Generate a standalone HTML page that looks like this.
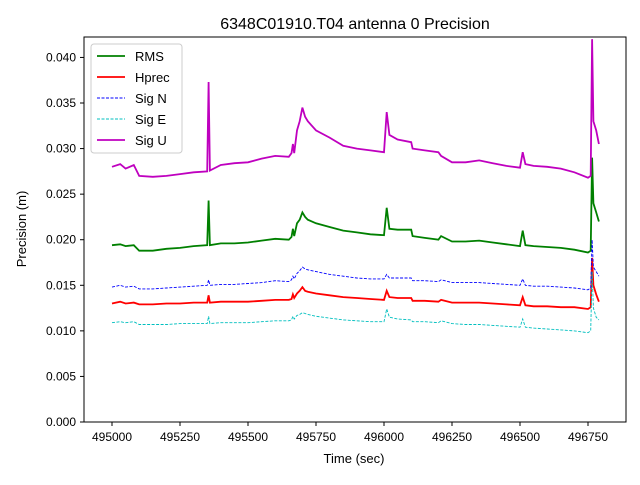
<!DOCTYPE html>
<html><head><meta charset="utf-8"><style>body{margin:0;background:#fff}svg text{font-family:"Liberation Sans","DejaVu Sans",sans-serif;fill:#000}</style></head>
<body>
<svg id="c" width="640" height="480" xmlns="http://www.w3.org/2000/svg">
<rect width="640" height="480" fill="#fff"/>
<g id="plot"></g>
<rect x="84" y="37" width="542" height="385" fill="none" stroke="#000" stroke-width="1"/>
<g id="axes"></g>
<text x="355" y="29" font-size="16" text-anchor="middle">6348C01910.T04 antenna 0 Precision</text>
<text x="354" y="463" font-size="13" text-anchor="middle">Time (sec)</text>
<text transform="translate(26,229) rotate(-90)" font-size="13" text-anchor="middle">Precision (m)</text>
<g id="legend">
<rect x="91" y="44" width="91" height="109" rx="3" fill="#fff" fill-opacity="0.8" stroke="#ccc"/>
</g>
</svg>
<script>
const times=[495000,495030,495050,495080,495100,495150,495200,495250,495300,495350,495355,495360,495400,495450,495500,495550,495600,495650,495660,495665,495670,495680,495690,495700,495710,495720,495750,495800,495850,495900,495950,496000,496010,496020,496050,496100,496105,496150,496200,496210,496250,496300,496350,496400,496450,496500,496510,496520,496550,496600,496650,496700,496750,496760,496765,496770,496780,496790];
const rms=[.0194,.0195,.0193,.0194,.0188,.0188,.0190,.0191,.0193,.0194,.0243,.0194,.0196,.0196,.0197,.0199,.0201,.0200,.0203,.0212,.0204,.0218,.0222,.0230,.0225,.0222,.0218,.0214,.0210,.0208,.0206,.0205,.0235,.0212,.0211,.0211,.0204,.0202,.0200,.0204,.0198,.0198,.0199,.0197,.0195,.0193,.0210,.0194,.0193,.0192,.0191,.0189,.0186,.0188,.0290,.0240,.0230,.0220];
const hprec=[.0130,.0132,.0130,.0131,.0129,.0129,.0130,.0130,.0131,.0131,.0139,.0131,.0132,.0132,.0132,.0133,.0134,.0134,.0135,.0140,.0136,.0141,.0144,.0148,.0144,.0143,.0141,.0139,.0137,.0136,.0135,.0134,.0144,.0137,.0136,.0136,.0133,.0133,.0132,.0134,.0131,.0131,.0131,.0130,.0129,.0128,.0137,.0128,.0127,.0127,.0126,.0126,.0124,.0126,.0180,.0150,.0140,.0132];
const sigN=[.0148,.0150,.0148,.0149,.0146,.0146,.0147,.0148,.0149,.0150,.0156,.0150,.0151,.0151,.0152,.0153,.0155,.0154,.0156,.0160,.0157,.0163,.0166,.0170,.0168,.0167,.0165,.0162,.0160,.0158,.0157,.0157,.0162,.0158,.0158,.0158,.0155,.0155,.0154,.0156,.0153,.0153,.0153,.0152,.0151,.0150,.0157,.0150,.0149,.0149,.0148,.0147,.0145,.0147,.0200,.0170,.0165,.0160];
const sigE=[.0109,.0110,.0109,.0110,.0107,.0107,.0107,.0108,.0108,.0108,.0116,.0108,.0109,.0109,.0109,.0110,.0111,.0111,.0112,.0116,.0113,.0117,.0118,.0120,.0119,.0118,.0116,.0114,.0112,.0111,.0110,.0110,.0124,.0115,.0113,.0112,.0110,.0110,.0109,.0111,.0108,.0107,.0107,.0106,.0105,.0104,.0113,.0104,.0103,.0102,.0101,.0100,.0098,.0100,.0165,.0125,.0115,.0112];
const sigU=[.0280,.0283,.0278,.0282,.0270,.0269,.0270,.0272,.0274,.0275,.0373,.0276,.0282,.0284,.0285,.0289,.0292,.0291,.0295,.0305,.0295,.0320,.0330,.0345,.0335,.0330,.0320,.0312,.0303,.0300,.0298,.0296,.0340,.0315,.0310,.0307,.0300,.0298,.0296,.0292,.0285,.0285,.0287,.0284,.0281,.0279,.0296,.0283,.0281,.0280,.0278,.0274,.0268,.0270,.0420,.0330,.0320,.0305];
const xTicks=[495000,495250,495500,495750,496000,496250,496500,496750];
const yTicks=[0,0.005,0.01,0.015,0.02,0.025,0.03,0.035,0.04];
const yTickLabels=["0.000","0.005","0.010","0.015","0.020","0.025","0.030","0.035","0.040"];
const NS='http://www.w3.org/2000/svg';
const X=v=>112+(v-495000)*0.272;
const Y=v=>422-v*9114;
const plot=document.getElementById('plot'),axes=document.getElementById('axes'),leg=document.getElementById('legend');
const series=[
 {name:'rms',label:'RMS',d:rms,c:'#008000',w:1.8,dash:''},
 {name:'hprec',label:'Hprec',d:hprec,c:'#ff0000',w:1.8,dash:''},
 {name:'sig-n',label:'Sig N',d:sigN,c:'#0000ff',w:0.9,dash:'3,1.5'},
 {name:'sig-e',label:'Sig E',d:sigE,c:'#00bfbf',w:0.9,dash:'3,1.5'},
 {name:'sig-u',label:'Sig U',d:sigU,c:'#bf00bf',w:1.8,dash:''}];
series.forEach((s,i)=>{
 const n=Math.min(times.length,s.d.length);
 let pts=[];for(let k=0;k<n;k++)pts.push(X(times[k]).toFixed(1)+','+Y(s.d[k]).toFixed(1));
 const p=document.createElementNS(NS,'polyline');
 p.setAttribute('points',pts.join(' '));p.setAttribute('fill','none');p.setAttribute('stroke',s.c);
 p.setAttribute('stroke-width',s.w);if(s.dash)p.setAttribute('stroke-dasharray',s.dash);
 
 
 plot.appendChild(p);
 const y=56+i*21;
 const l=document.createElementNS(NS,'line');
 l.setAttribute('x1',97);l.setAttribute('x2',125);l.setAttribute('y1',y);l.setAttribute('y2',y);
 l.setAttribute('stroke',s.c);l.setAttribute('stroke-width',s.w);if(s.dash)l.setAttribute('stroke-dasharray',s.dash);
 
 
 leg.appendChild(l);
 const t=document.createElementNS(NS,'text');
 t.setAttribute('x',135);t.setAttribute('y',y+5);t.setAttribute('font-size','13');t.textContent=s.label;
 
 
 leg.appendChild(t);
});
xTicks.forEach(v=>{
 const x=X(v);
 const l=document.createElementNS(NS,'line');
 l.setAttribute('x1',x);l.setAttribute('x2',x);l.setAttribute('y1',422);l.setAttribute('y2',426);l.setAttribute('stroke','#000');
 
 
 axes.appendChild(l);
 const t=document.createElementNS(NS,'text');
 t.setAttribute('x',x);t.setAttribute('y',441);t.setAttribute('font-size','12');t.setAttribute('text-anchor','middle');t.textContent=v;
 
 
 axes.appendChild(t);
});
yTicks.forEach((v,i)=>{
 const y=Y(v);
 const l=document.createElementNS(NS,'line');
 l.setAttribute('x1',80);l.setAttribute('x2',84);l.setAttribute('y1',y);l.setAttribute('y2',y);l.setAttribute('stroke','#000');
 
 
 axes.appendChild(l);
 const t=document.createElementNS(NS,'text');
 t.setAttribute('x',76);t.setAttribute('y',y+4);t.setAttribute('font-size','12');t.setAttribute('text-anchor','end');t.textContent=yTickLabels[i];
 
 
 axes.appendChild(t);
});
</script>
</body></html>
